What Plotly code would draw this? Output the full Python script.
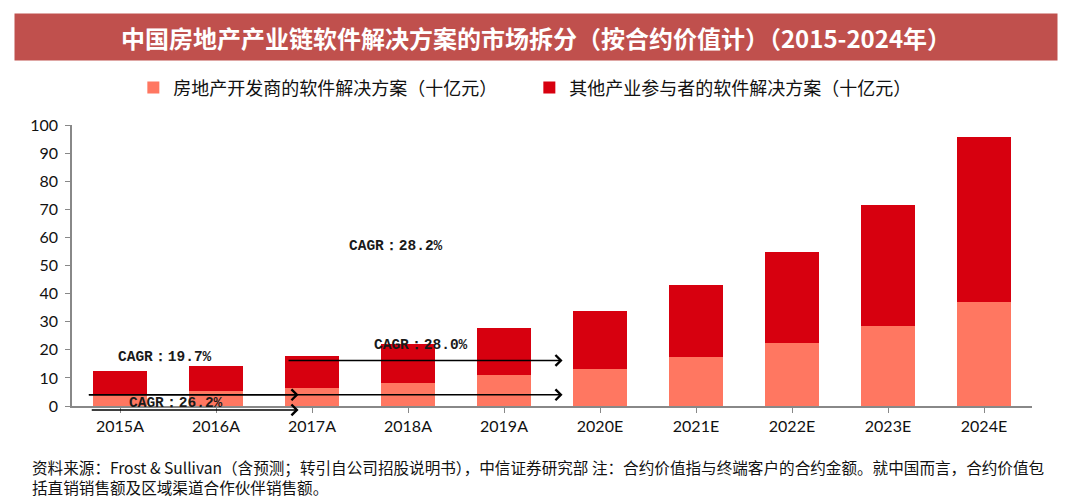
import plotly.graph_objects as go

# ---- data ----
years = ["2015A", "2016A", "2017A", "2018A", "2019A", "2020E", "2021E", "2022E", "2023E", "2024E"]
developer_sw = [4.1, 5.2, 6.5, 8.3, 10.9, 13.2, 17.3, 22.3, 28.5, 37.0]
other_sw = [8.4, 9.2, 11.2, 13.6, 16.9, 20.6, 25.7, 32.5, 43.2, 58.7]
series_names = ["房地产开发商的软件解决方案（十亿元）", "其他产业参与者的软件解决方案（十亿元）"]
y_ticks = [0, 10, 20, 30, 40, 50, 60, 70, 80, 90, 100]
y_range = [0, 100]

title_text = "中国房地产产业链软件解决方案的市场拆分（按合约价值计）（2015-2024年）"
source_lines = [
    "资料来源：Frost & Sullivan（含预测；转引自公司招股说明书），中信证券研究部 注：合约价值指与终端客户的合约金额。就中国而言，合约价值包",
    "括直销销售额及区域渠道合作伙伴销售额。",
]

# CAGR labels: (text, x position in category index units, y value)
cagr_labels = [
    ("CAGR：19.7%", 0.47, 17.5),
    ("CAGR：26.2%", 0.58, 1.1),
    ("CAGR：28.2%", 2.87, 57.0),
    ("CAGR：28.0%", 3.14, 21.7),
]
# arrows: (x start, x end, y) in category index units / data values
cagr_arrows = [
    (-0.31, 1.86, -1.4),
    (-0.34, 1.86, 4.0),
    (-0.34, 4.61, 4.0),
    (1.74, 4.61, 16.2),
]

LIGHT = "#FF7761"
DARK = "#D7000F"
CJK = "Noto Sans CJK SC"


def to_domain(v):
    return (v - y_range[0]) / (y_range[1] - y_range[0])


fig = go.Figure()
fig.add_trace(go.Bar(x=list(range(len(years))), y=developer_sw, name=series_names[0],
                     marker=dict(color=LIGHT, line=dict(width=0))))
fig.add_trace(go.Bar(x=list(range(len(years))), y=other_sw, name=series_names[1],
                     marker=dict(color=DARK, line=dict(width=0))))

annotations = []
for txt, xv, yv in cagr_labels:
    annotations.append(dict(x=xv, y=to_domain(yv), xref="x", yref="y domain", text="<b>" + txt + "</b>",
                            showarrow=False,
                            font=dict(family="Liberation Mono", size=14.5, color="#1a1a1a"),
                            xanchor="center", yanchor="middle"))
for x0, x1, yv in cagr_arrows:
    annotations.append(dict(x=x1, y=to_domain(yv), ax=x0, ay=to_domain(yv),
                            xref="x", yref="y domain", axref="x", ayref="y domain",
                            text="", showarrow=True, arrowhead=4, arrowsize=1.4, arrowwidth=1.5,
                            arrowcolor="#000000"))

# title banner
annotations.append(dict(x=0.4836, y=1.313, xref="paper", yref="paper", text="<b>" + title_text + "</b>",
                        showarrow=False, xanchor="center", yanchor="middle",
                        width=1042, height=46, bgcolor="#C0504D", borderpad=0,
                        font=dict(family=CJK, size=24, color="#FFFFFF")))
# source lines
for i, line in enumerate(source_lines):
    annotations.append(dict(x=-0.0434, y=-0.217 - 0.071 * i, xref="paper", yref="paper", text=line,
                            showarrow=False, xanchor="left", yanchor="middle", align="left",
                            font=dict(family=CJK, size=15.6, color="#111111")))

fig.update_layout(
    width=1080, height=501,
    margin=dict(l=72, r=48, t=125, b=95, autoexpand=False),
    paper_bgcolor="white", plot_bgcolor="white",
    barmode="stack", bargap=0.433,
    showlegend=True,
    legend=dict(orientation="h", x=0.0639, y=1.132, xanchor="left", yanchor="middle",
                font=dict(family=CJK, size=18, color="#111111"),
                entrywidth=351, entrywidthmode="pixels", traceorder="normal",
                bgcolor="rgba(0,0,0,0)"),
    annotations=annotations,
    font=dict(family="Lato", color="#111111"),
)
fig.update_xaxes(
    tickmode="array", tickvals=list(range(len(years))), ticktext=years,
    range=[-0.5, len(years) - 0.5],
    showline=True, linecolor="#888888", linewidth=1.5,
    ticks="outside", tickson="boundaries", ticklen=5, tickcolor="#888888",
    showgrid=False, zeroline=False,
    tickfont=dict(family="Lato", size=16, color="#111111"),
)
fig.update_yaxes(
    range=y_range, tickmode="array", tickvals=y_ticks,
    showline=True, linecolor="#888888", linewidth=1.5,
    ticks="outside", ticklen=5, tickcolor="#888888",
    showgrid=False, zeroline=False,
    tickfont=dict(family="Lato", size=16, color="#111111"),
    ticklabelstandoff=4,
)

fig.write_html("out.html", config={"displayModeBar": False},
               post_script="document.body.style.margin='0';document.body.style.overflow='hidden';")
